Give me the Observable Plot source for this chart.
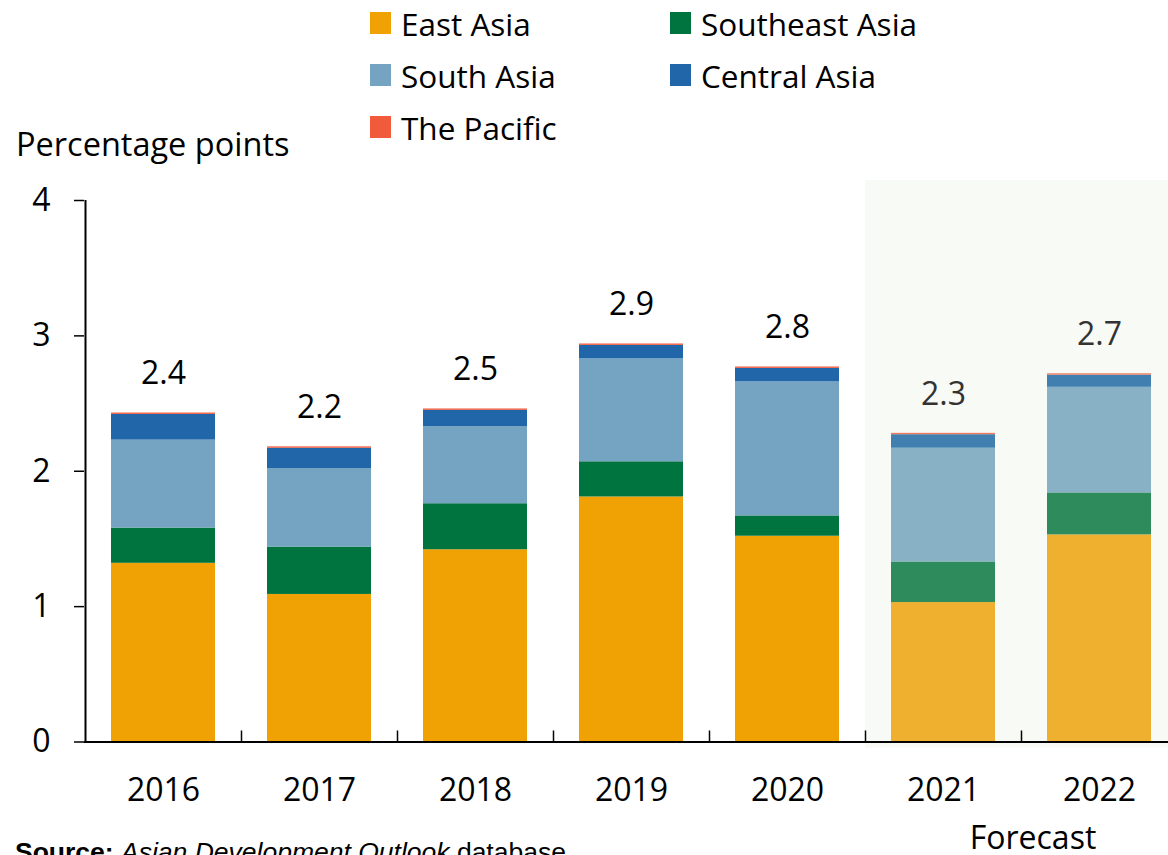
<!DOCTYPE html>
<html>
<head>
<meta charset="utf-8">
<script src="https://cdn.jsdelivr.net/npm/d3@7"></script>
<script src="https://cdn.jsdelivr.net/npm/@observablehq/plot@0.6"></script>
<style>
  html, body { margin: 0; padding: 0; background: #fff; overflow: hidden; }
  #wrap { position: relative; width: 1168px; height: 855px; overflow: hidden; font-family: 'Open Sans', sans-serif; color: #000; }
  #chart { position: absolute; left: 0; top: 0; width: 1180px; }
  #chart svg { max-width: none !important; width: 1180px; height: 855px; }
  .lab { position: absolute; white-space: nowrap; }
  .leg { position: absolute; display: flex; align-items: center; height: 40px; font-size: 31.5px; white-space: nowrap; }
  .sw { display: inline-block; width: 21px; height: 22px; margin-right: 10px; }
  #source { position: absolute; left: 15px; top: 838px; font-family: 'Liberation Sans', Arial, sans-serif; font-size: 26.5px; line-height: 28px; white-space: nowrap; }
</style>
</head>
<body>
<div id="wrap">
  <div id="chart"></div>
  <div id="legend"></div>
  <div class="lab" style="left:16px; top:124px; font-size:32.5px; line-height:40px;">Percentage points</div>
  <div class="lab" style="left:1033px; top:821px; font-size:32px; line-height:32px; transform:translateX(-50%);">Forecast</div>
  <div id="source"><b>Source:</b> <i>Asian Development Outlook</i> database</div>
</div>
<script>
// ---- Data ----
const years = ["2016", "2017", "2018", "2019", "2020", "2021", "2022"];
const forecastYears = ["2021", "2022"];
const seriesNames = ["East Asia", "Southeast Asia", "South Asia", "Central Asia", "The Pacific"];
const eastAsia      = [1.32, 1.09, 1.42, 1.81, 1.52, 1.03, 1.53];
const southeastAsia = [0.26, 0.35, 0.34, 0.26, 0.15, 0.30, 0.31];
const southAsia     = [0.65, 0.58, 0.57, 0.76, 0.99, 0.84, 0.78];
const centralAsia   = [0.19, 0.15, 0.12, 0.10, 0.10, 0.10, 0.09];
const pacific       = [0.01, 0.01, 0.01, 0.01, 0.01, 0.01, 0.01];
const totalLabels   = ["2.4", "2.2", "2.5", "2.9", "2.8", "2.3", "2.7"];
const yTicks = [0, 1, 2, 3, 4];

// ---- Styles ----
const colors         = ["#f0a204", "#00743f", "#74a4c2", "#2166a8", "#f15a3a"];
const forecastColors = ["#eeb02e", "#2e8b5c", "#89b1c6", "#417fb1", "#f17a5e"];
const shadeColor = "#f8faf5";

const seriesValues = [eastAsia, southeastAsia, southAsia, centralAsia, pacific];
const rows = [];
years.forEach((yr, i) => {
  seriesValues.forEach((vals, s) => {
    rows.push({year: yr, series: seriesNames[s], value: vals[i], s, forecast: forecastYears.includes(yr)});
  });
});
const totals = years.map((_, i) => d3.sum(seriesValues, v => v[i]));

const yScalePx = (741.5 - 200) / 4;
const tickLen = 11 / yScalePx;

const plot = Plot.plot({
  width: 1180,
  height: 855,
  marginTop: 200,
  marginBottom: 113.5,
  marginLeft: 84,
  marginRight: 2,
  style: {fontFamily: "'Open Sans', sans-serif", fontSize: "32px", color: "#000", background: "transparent", overflow: "visible", maxWidth: "none"},
  x: {domain: years, paddingInner: 1/3, paddingOuter: 0.173},
  y: {domain: [0, 4]},
  color: {type: "identity"},
  marks: [
    // forecast shading
    Plot.barY(forecastYears, {x: d => d, y1: 0, y2: 4, fill: shadeColor, insetLeft: -26, insetRight: -26, insetTop: -20, insetBottom: -6}),
    // stacked bars
    Plot.barY(rows, {x: "year", y: "value", fill: d => d.forecast ? forecastColors[d.s] : colors[d.s]}),
    // value labels
    Plot.text(years, {x: d => d, y: (d, i) => totals[i], text: (d, i) => totalLabels[i], dy: -39, fontSize: 32,
      fill: d => forecastYears.includes(d) ? "#333" : "#000"}),
    // axes
    Plot.axisY({ticks: yTicks, tickSize: 10, tickPadding: 24, fontSize: 32, label: null, tickFormat: d => String(d), strokeWidth: 1.5}),
    Plot.axisX({tickSize: 0, tickPadding: 36, fontSize: 32, label: null}),
    // y axis line
    Plot.ruleX([years[0]], {x: d => d, dx: -78, y1: 0, y2: 4, stroke: "#000", strokeWidth: 2}),
    // category boundary ticks
    Plot.ruleX(years.slice(1), {x: d => d, dx: -78, y1: 0, y2: tickLen, stroke: "#000", strokeWidth: 1.5}),
    // baseline
    Plot.ruleY([0], {stroke: "#000", strokeWidth: 2})
  ]
});
document.getElementById("chart").appendChild(plot);

// ---- Legend (HTML) ----
const legendPos = [
  {left: 370, cy: 23}, {left: 670, cy: 23},
  {left: 370, cy: 75}, {left: 670, cy: 75},
  {left: 370, cy: 127}
];
const legendOrder = [0, 1, 2, 3, 4];
const legend = document.getElementById("legend");
legendOrder.forEach((s, k) => {
  const p = legendPos[k];
  const el = document.createElement("div");
  el.className = "leg";
  el.style.left = p.left + "px";
  el.style.top = (p.cy - 20) + "px";
  el.innerHTML = `<span class="sw" style="background:${colors[s]}"></span><span>${seriesNames[s]}</span>`;
  legend.appendChild(el);
});
</script>
</body>
</html>
